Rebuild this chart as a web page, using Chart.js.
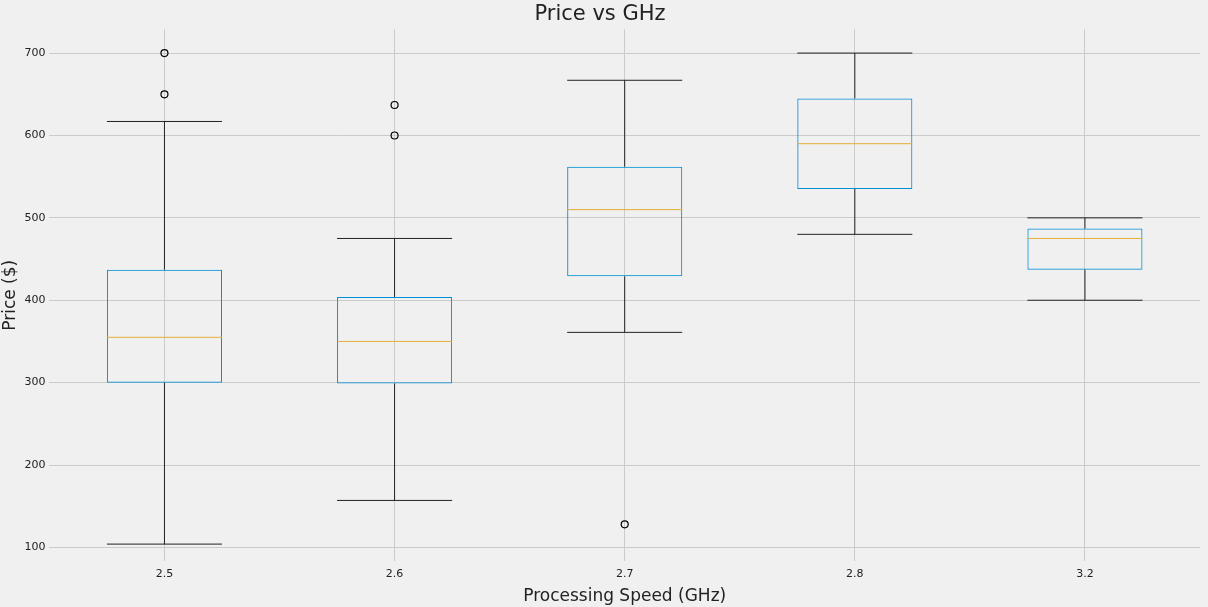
<!DOCTYPE html>
<html>
<head>
<script src="https://cdn.jsdelivr.net/npm/chart.js@4"></script>
<style>
  html, body { margin: 0; padding: 0; background: #f0f0f0; }
  #wrap { width: 1208px; height: 607px; }
</style>
</head>
<body>
<div id="wrap"><canvas id="box-chart"></canvas></div>
<script>
const categories = ["2.5", "2.6", "2.7", "2.8", "3.2"];
const whiskerLow = [104, 157, 361, 480, 400];
const q1 = [300, 299, 429, 535, 437];
const median = [355, 350, 510, 590, 475];
const q3 = [437, 404, 562, 645, 487];
const whiskerHigh = [617, 475, 667, 700, 500];
const outliers = [
  { x: "2.5", y: 650 }, { x: "2.5", y: 700 },
  { x: "2.6", y: 600 }, { x: "2.6", y: 637 },
  { x: "2.7", y: 128 }
];
const yTicks = [100, 200, 300, 400, 500, 600, 700];

const boxLines = {
  id: "boxLines",
  afterDatasetsDraw(chart) {
    const ctx = chart.ctx;
    const xs = chart.scales.x;
    const ys = chart.scales.y;
    const meta = chart.getDatasetMeta(0);
    ctx.save();
    ctx.lineWidth = 1;
    meta.data.forEach((bar, i) => {
      const cx = xs.getPixelForValue(i);
      const half = bar.width / 2;
      // whiskers
      ctx.strokeStyle = "#222";
      ctx.beginPath();
      ctx.moveTo(cx, ys.getPixelForValue(q1[i]));
      ctx.lineTo(cx, ys.getPixelForValue(whiskerLow[i]));
      ctx.moveTo(cx, ys.getPixelForValue(q3[i]));
      ctx.lineTo(cx, ys.getPixelForValue(whiskerHigh[i]));
      ctx.moveTo(cx - half, ys.getPixelForValue(whiskerLow[i]));
      ctx.lineTo(cx + half, ys.getPixelForValue(whiskerLow[i]));
      ctx.moveTo(cx - half, ys.getPixelForValue(whiskerHigh[i]));
      ctx.lineTo(cx + half, ys.getPixelForValue(whiskerHigh[i]));
      ctx.stroke();
      // median
      ctx.strokeStyle = "#e5ae38";
      ctx.beginPath();
      ctx.moveTo(cx - half, ys.getPixelForValue(median[i]));
      ctx.lineTo(cx + half, ys.getPixelForValue(median[i]));
      ctx.stroke();
    });
    ctx.restore();
  }
};

const config = {
  type: "bar",
  data: {
    labels: categories,
    datasets: [{
      label: "box",
      data: categories.map((c, i) => [q1[i], q3[i]]),
      backgroundColor: "rgba(0,0,0,0)",
      borderColor: "#008fd5",
      borderWidth: 1,
      borderSkipped: false,
      barPercentage: 0.5,
      categoryPercentage: 1,
    },
    {
      type: "scatter",
      label: "outliers",
      data: outliers,
      backgroundColor: "rgba(0,0,0,0)",
      borderColor: "#000",
      borderWidth: 1.2,
      pointRadius: 3.5,
    }],
  },
  options: {
    responsive: true,
    maintainAspectRatio: false,
    animation: false,
    layout: { padding: { left: 0, right: 8, top: 0, bottom: 0 } },
    plugins: {
      legend: { display: false },
      tooltip: { enabled: false },
      title: {
        display: true,
        text: "Price vs GHz",
        color: "#222",
        font: { family: "DejaVu Sans", size: 21, weight: "normal" },
        padding: { top: 2, bottom: 2 },
      },
    },
    scales: {
      x: {
        type: "category",
        offset: true,
        grid: { color: "#cbcbcb", offset: false, drawTicks: false },
        border: { display: false },
        ticks: { color: "#222", font: { family: "DejaVu Sans", size: 11 }, padding: 6 },
        title: { display: true, text: "Processing Speed (GHz)", color: "#222", font: { family: "DejaVu Sans", size: 17 }, padding: 0 },
      },
      y: {
        min: 83,
        max: 729,
        afterBuildTicks: axis => { axis.ticks = yTicks.map(v => ({ value: v })); },
        grid: { color: "#cbcbcb", drawTicks: false },
        border: { display: false },
        ticks: { color: "#222", font: { family: "DejaVu Sans", size: 11 }, padding: 4 },
        title: { display: true, text: "Price ($)", color: "#222", font: { family: "DejaVu Sans", size: 17 }, padding: 0 },
      },
    },
  },
  plugins: [boxLines],
};

new Chart(document.getElementById("box-chart"), config);
</script>
</body>
</html>
